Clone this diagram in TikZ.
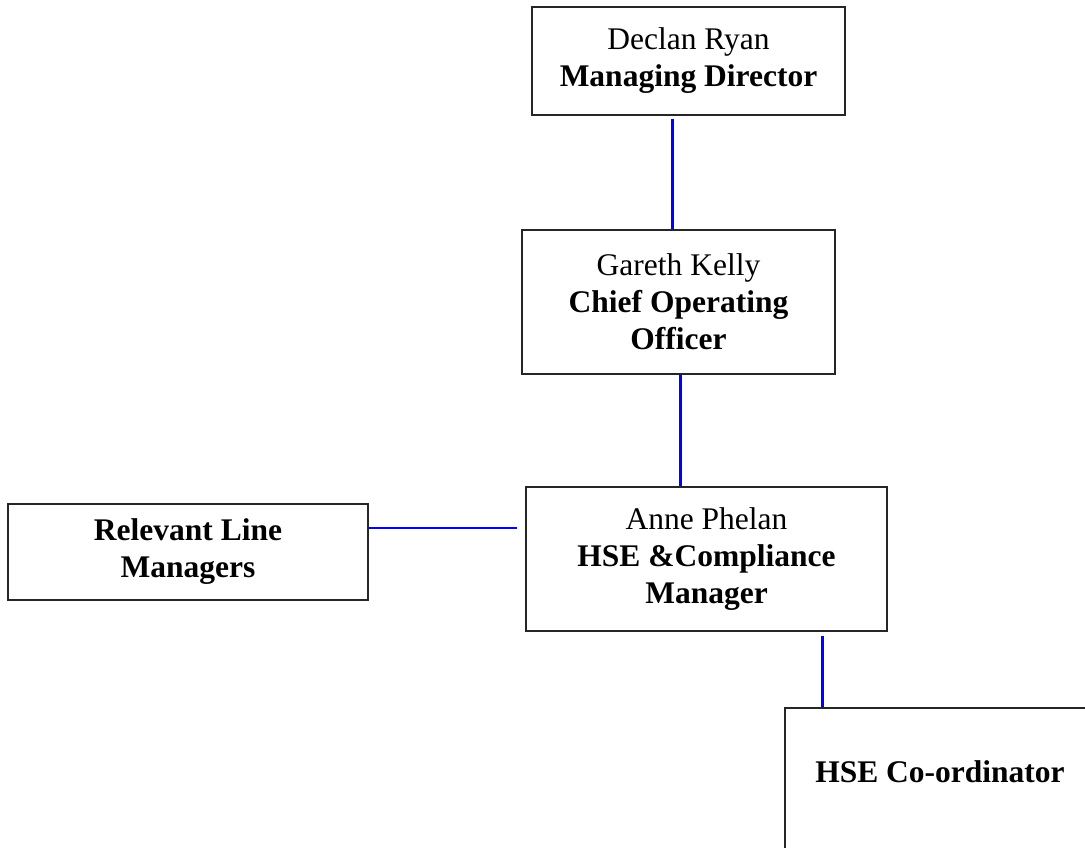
\documentclass[tikz,border=0pt]{standalone}
\usepackage{fontspec}
\setmainfont{Liberation Serif}
\usetikzlibrary{calc}
\tikzset{
  box/.style={draw=black!85, line width=2pt, rectangle, align=center, inner sep=0pt,
    font=\fontsize{31.5}{37}\selectfont},
  lbl/.style={align=center, inner sep=0pt, font=\fontsize{31.5}{37}\selectfont},
  vconn/.style={draw={rgb,255:red,0;green,0;blue,255}, line width=3pt},
  hconn/.style={draw={rgb,255:red,0;green,0;blue,255}, line width=2pt},
}
\begin{document}
\begin{tikzpicture}[x=1pt,y=-1pt]
\useasboundingbox (0,0) rectangle (1085,848);
\clip (0,0) rectangle (1085,848);
\node[box, minimum width=313pt, minimum height=108pt] (dr) at (688.5,61) {Declan Ryan\\\textbf{Managing Director}};
\node[box, minimum width=313pt, minimum height=144pt] (gk) at (678.5,302) {Gareth Kelly\\\textbf{Chief Operating}\\\textbf{Officer}};
\node[box, minimum width=361pt, minimum height=144pt] (ap) at (706.5,559) {Anne Phelan\\\textbf{HSE \&Compliance}\\\textbf{Manager}};
\node[box, minimum width=360pt, minimum height=96pt] (rl) at (188,552) {\textbf{Relevant Line}\\\textbf{Managers}};
\node[box, anchor=north west, minimum width=316pt, minimum height=190pt] (hc) at (784,707) {};
\node[lbl] (hct) at (940,772) {\textbf{HSE Co-ordinator}};
\draw[vconn] ([xshift=-16.5pt,yshift=-3pt]dr.south) -- ([xshift=-16.5pt]dr.south |- gk.north);
\draw[vconn] ([xshift=1.5pt]gk.south) -- ([xshift=1.5pt]gk.south |- ap.north);
\draw[hconn] ([yshift=24pt]rl.east) -- ([yshift=24pt,xshift=-8pt]rl.east -| ap.west);
\draw[vconn] ([xshift=115.5pt,yshift=-4pt]ap.south) -- ([xshift=115.5pt]ap.south |- hc.north);
\end{tikzpicture}
\end{document}
